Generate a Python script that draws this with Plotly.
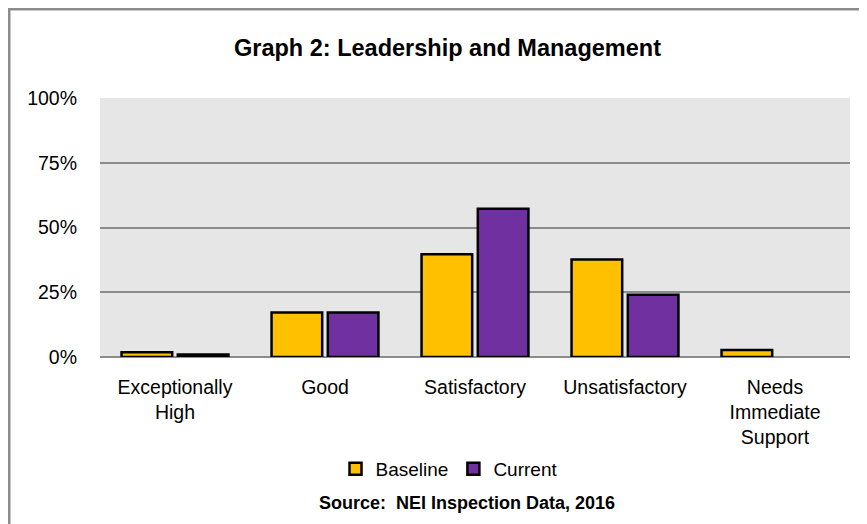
import plotly.graph_objects as go

categories = ["Exceptionally<br>High", "Good", "Satisfactory", "Unsatisfactory", "Needs<br>Immediate<br>Support"]
baseline = [1.8, 17.2, 39.7, 37.6, 2.7]
current = [1.0, 17.2, 57.2, 24.0, 0.0]
ytick_vals = [0, 25, 50, 75, 100]
ytick_text = ["0%", "25%", "50%", "75%", "100%"]

FONT = "Liberation Sans, Arial, sans-serif"

# page has an 8px body margin; plot area in figure coords
L, T, PW, PH = 92, 90, 750, 259
W, H = 867, 524

def px(xpix):  # reference pixel x -> paper x
    return (xpix - 8 - L) / PW

def py(ypix):  # reference pixel y -> paper y
    return (T + PH - (ypix - 8)) / PH

cur_line_w = [2.5 if v > 0 else 0 for v in current]

fig = go.Figure()
fig.add_trace(go.Bar(name="Baseline", x=categories, y=baseline,
                     marker=dict(color="#FFC000", line=dict(color="#000000", width=2.5))))
fig.add_trace(go.Bar(name="Current", x=categories, y=current,
                     marker=dict(color="#7030A0", line=dict(color="#000000", width=cur_line_w))))

fig.update_layout(
    width=W, height=H,
    margin=dict(l=L, r=W - L - PW, t=T, b=H - T - PH),
    paper_bgcolor="white",
    plot_bgcolor="#E6E6E6",
    font=dict(family=FONT, size=19.5, color="#000000"),
    barmode="group", bargap=0.25, bargroupgap=0.1,
    showlegend=True,
    legend=dict(orientation="h", x=px(449), xanchor="center", y=py(469), yanchor="middle",
                font=dict(size=19), itemwidth=30, traceorder="normal", bgcolor="rgba(0,0,0,0)"),
    annotations=[
        dict(text="<b>Graph 2: Leadership and Management</b>", xref="paper", yref="paper",
             x=px(447), y=py(48), xanchor="center", yanchor="middle",
             showarrow=False, font=dict(size=23.5, family=FONT)),
        dict(text="<b>Source:  NEI Inspection Data, 2016</b>", xref="paper", yref="paper",
             x=px(467), y=py(503), xanchor="center", yanchor="middle",
             showarrow=False, font=dict(size=18, family=FONT)),
    ],
    shapes=[
        dict(type="rect", xref="paper", yref="paper", x0=px(9), x1=px(900),
             y0=py(560), y1=py(9), line=dict(color="#8C8C8C", width=3), layer="below"),
    ],
)
fig.update_xaxes(showgrid=False, ticks="", showline=False, tickfont=dict(size=19.5),
                 ticklabelstandoff=16)
fig.update_yaxes(range=[0, 100], tickvals=ytick_vals, ticktext=ytick_text,
                 showgrid=True, gridcolor="#8C8C8C", gridwidth=2,
                 zeroline=True, zerolinecolor="#8C8C8C", zerolinewidth=2,
                 ticks="", ticklabelstandoff=22, tickfont=dict(size=19.5), fixedrange=True)

fig.write_html("out.html")
